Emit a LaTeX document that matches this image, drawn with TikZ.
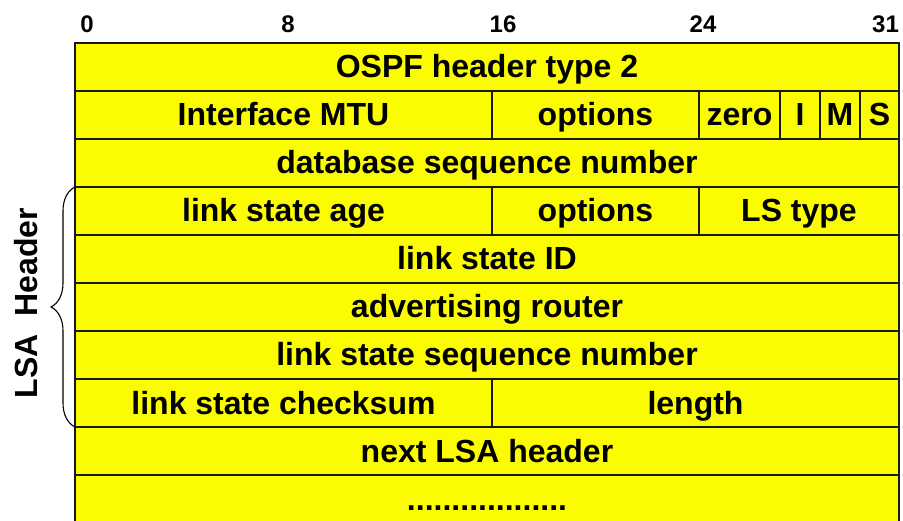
\documentclass[tikz,border=0pt]{standalone}
\usepackage{fontspec}
\setmainfont{Liberation Sans}
\usetikzlibrary{decorations.pathreplacing}
\definecolor{cellyellow}{RGB}{252,252,0}
\begin{document}
\begin{tikzpicture}[x=1pt,y=-1pt,
  cell/.style={draw=black!90, line width=1.2pt, fill=cellyellow,
    inner sep=0pt, outer sep=0pt, minimum height=48pt,
    text height=29pt, text depth=7pt,
    font=\fontsize{32}{36}\selectfont\bfseries},
  bitnum/.style={anchor=base, inner sep=0pt,
    font=\fontsize{24}{28}\selectfont\bfseries},
  sidelabel/.style={rotate=90, anchor=base, inner sep=0pt,
    font=\fontsize{32}{36}\selectfont\bfseries}]
\useasboundingbox (0,0) rectangle (903,521);
\clip (0,0) rectangle (903,521);

% bit positions
\node[bitnum] (b0)  at (87,33)    {0};
\node[bitnum] (b8)  at (288,33)   {8};
\node[bitnum] (b16) at (503,33)   {16};
\node[bitnum] (b24) at (703,33)   {24};
\node[bitnum] (b31) at (885.5,33) {31};

% packet fields, one row per 32-bit word
\node[cell, minimum width=824pt] (hdr)   at (487,67)    {OSPF header type 2};
\node[cell, minimum width=417pt] (mtu)   at (283.5,115) {Interface MTU};
\node[cell, minimum width=207pt] (opt1)  at (595.5,115) {options};
\node[cell, minimum width=81pt]  (zero)  at (739.5,115) {zero};
\node[cell, minimum width=40pt]  (ibit)  at (800,115)   {I};
\node[cell, minimum width=40pt]  (mbit)  at (840,115)   {M};
\node[cell, minimum width=39pt]  (sbit)  at (879.5,115) {S};
\node[cell, minimum width=824pt] (dbseq) at (487,163)   {database sequence number};
\node[cell, minimum width=417pt] (age)   at (283.5,211) {link state age};
\node[cell, minimum width=207pt] (opt2)  at (595.5,211) {options};
\node[cell, minimum width=200pt] (lstype) at (799,211)  {LS type};
\node[cell, minimum width=824pt] (lsid)  at (487,259)   {link state ID};
\node[cell, minimum width=824pt] (advr)  at (487,307)   {advertising router};
\node[cell, minimum width=824pt] (lsseq) at (487,355)   {link state sequence number};
\node[cell, minimum width=417pt] (cksum) at (283.5,403) {link state checksum};
\node[cell, minimum width=407pt] (len)   at (695.5,403) {length};
\node[cell, minimum width=824pt] (next)  at (487,451)   {next LSA header};
\node[cell, minimum width=824pt] (more)  at (487,499)   {..................};

% brace marking the LSA header words
\draw[decorate, decoration={brace, amplitude=24pt}, line width=1.1pt]
  (cksum.south west) -- (age.north west);
\node[sidelabel] (lsa) at (37,303) {LSA\ \ Header};
\end{tikzpicture}
\end{document}
